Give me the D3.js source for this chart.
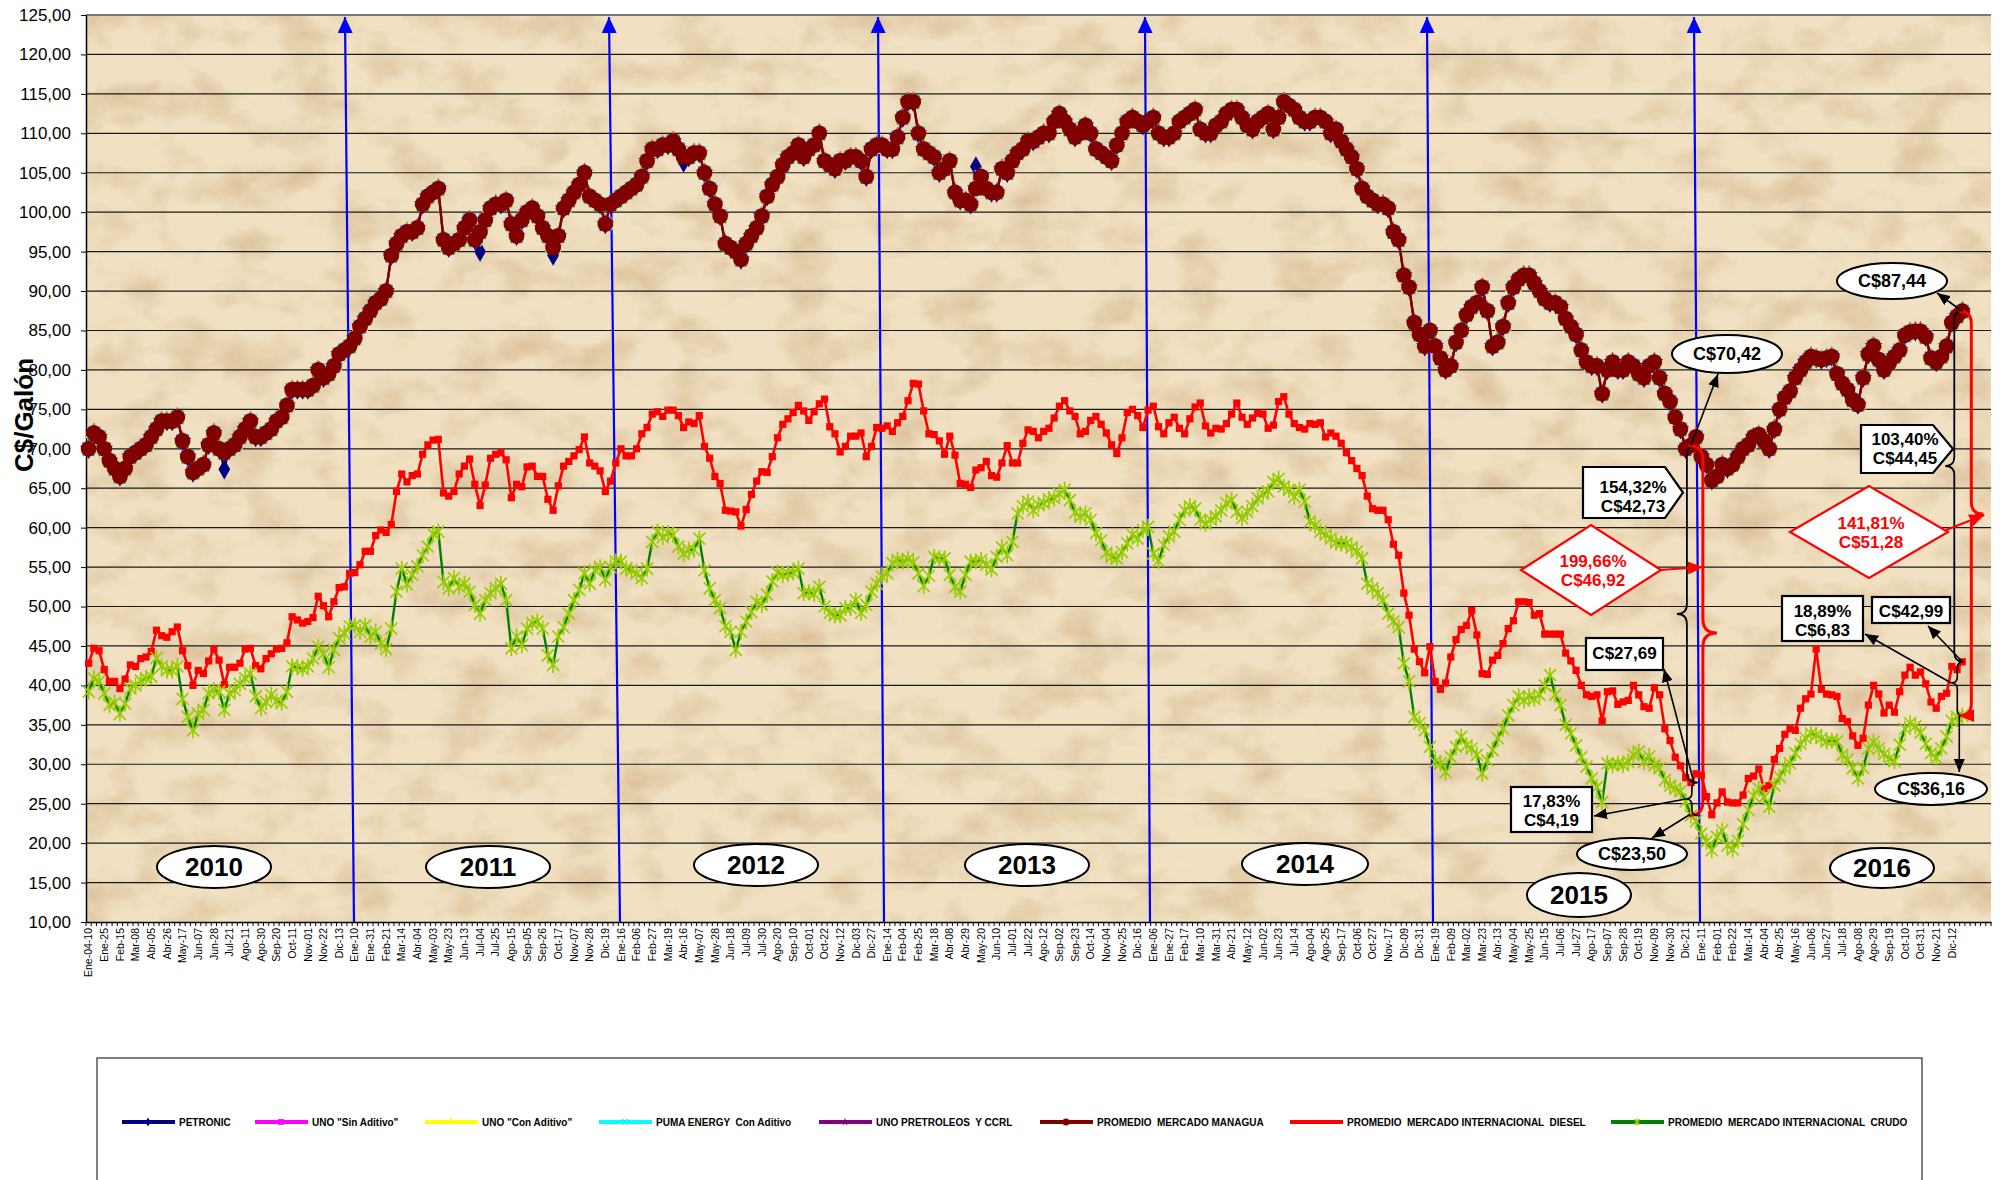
<!DOCTYPE html>
<html>
<head>
<meta charset="utf-8">
<script src="https://cdn.jsdelivr.net/npm/d3@7"></script>
<style>
  body { margin: 0; background: #fff; }
  svg text { font-family: "Liberation Sans", Arial, sans-serif; }
</style>
</head>
<body>
<svg id="chart" width="2003" height="1180"></svg>
<script>
// weekly category labels (every third week is labelled)
var weekLabels = ["Ene-04-10","Ene-25","Feb-15","Mar-08","Abr-05","Abr-26","May-17","Jun-07","Jun-28","Jul-21",
  "Ago-11","Ago-30","Sep-20","Oct-11","Nov-01","Nov-22","Dic-13","Ene-10","Ene-31","Feb-21",
  "Mar-14","Abr-04","May-03","May-23","Jun-13","Jul-04","Jul-25","Ago-15","Sep-05","Sep-26",
  "Oct-17","Nov-07","Nov-28","Dic-19","Ene-16","Feb-06","Feb-27","Mar-19","Abr-16","May-07",
  "May-28","Jun-18","Jul-09","Jul-30","Ago-20","Sep-10","Oct-01","Oct-22","Nov-12","Dic-03",
  "Dic-27","Ene-14","Feb-04","Feb-25","Mar-18","Abr-08","Abr-29","May-20","Jun-10","Jul-01",
  "Jul-22","Ago-12","Sep-02","Sep-23","Oct-14","Nov-04","Nov-25","Dic-16","Ene-06","Ene-27",
  "Feb-17","Mar-10","Mar-31","Abr-21","May-12","Jun-02","Jun-23","Jul-14","Ago-04","Ago-25",
  "Sep-17","Oct-06","Oct-27","Nov-17","Dic-09","Dic-31","Ene-19","Feb-09","Mar-02","Mar-23",
  "Abr-13","May-04","May-25","Jun-15","Jul-06","Jul-27","Ago-17","Sep-07","Sep-28","Oct-19",
  "Nov-09","Nov-30","Dic-21","Ene-11","Feb-01","Feb-22","Mar-14","Abr-04","Abr-25","May-16",
  "Jun-06","Jun-27","Jul-18","Ago-08","Ago-29","Sep-19","Oct-10","Oct-31","Nov-21","Dic-12"];
var axisWeeks = 365;
var yTicks = d3.range(10, 126, 5);

// C$/galon, weekly
var managua = [
  70.0,72.0,71.5,70.0,68.5,67.5,66.5,67.5,69.0,69.5, 70.0,70.5,71.5,72.5,73.5,73.5,73.5,74.0,71.0,69.0,
  67.0,67.5,68.0,70.5,72.0,70.0,69.5,70.0,70.5,71.5, 72.5,73.5,71.5,71.5,72.0,72.5,73.5,74.0,75.5,77.5,
  77.5,77.5,77.5,78.0,80.0,79.0,79.5,80.5,82.0,82.5, 83.0,84.0,85.5,86.5,87.5,88.5,89.0,90.0,94.5,96.0,
  97.0,97.5,97.5,98.0,101.0,102.0,102.5,103.0,96.5,95.5, 96.0,96.5,98.0,99.0,96.5,97.5,99.0,100.5,101.0,101.0,
  101.5,98.5,97.0,99.0,100.0,100.5,99.5,98.0,97.0,95.5, 97.0,100.5,101.5,102.5,103.5,105.0,102.0,101.5,101.0,98.5,
  101.0,101.5,102.0,102.5,103.0,103.5,104.5,106.5,108.0,108.0, 108.5,108.5,109.0,108.0,107.0,107.0,107.5,107.5,105.0,103.0,
  101.0,99.5,96.0,95.5,95.0,94.0,96.0,97.0,98.0,99.5, 102.0,103.5,104.5,106.0,107.0,107.5,108.5,107.0,108.0,108.5,
  110.0,106.5,106.0,105.5,106.5,106.5,107.0,107.0,106.5,104.5, 108.0,108.5,108.5,108.0,108.0,109.5,112.0,114.0,114.0,110.0,
  108.0,107.5,107.0,105.0,105.5,106.5,102.5,101.5,101.5,101.0, 103.0,104.5,103.0,102.5,102.5,105.5,105.0,106.5,107.5,108.0,
  109.0,109.0,109.5,110.0,110.0,111.5,112.5,111.5,110.5,109.5, 110.0,111.0,110.0,108.0,107.5,107.0,106.5,108.5,110.0,111.5,
  112.0,111.5,111.0,111.5,112.0,110.0,109.5,109.5,110.0,111.5, 112.0,112.5,113.0,110.5,110.0,110.0,111.0,111.5,112.5,113.0,
  113.0,112.0,111.0,110.5,111.5,112.0,112.5,110.5,112.0,114.0, 113.5,113.0,112.0,111.5,111.5,112.0,112.0,111.5,110.0,110.5,
  109.0,108.0,107.0,105.5,103.0,102.0,101.5,101.0,101.0,100.5, 97.5,96.5,92.0,90.5,86.0,84.5,83.0,85.0,83.0,81.5,
  80.0,80.5,83.5,85.0,87.0,88.0,88.5,90.5,87.5,83.0, 83.5,85.5,88.5,90.5,91.5,92.0,92.0,91.0,90.0,89.0,
  88.5,88.5,88.0,86.5,85.5,84.5,82.5,81.0,80.5,80.5, 77.0,80.0,81.0,80.0,80.0,81.0,80.5,79.5,79.0,80.5,
  81.0,79.0,77.0,76.0,74.0,72.5,70.0,70.42,71.5,69.0, 68.0,66.0,66.5,68.0,67.5,68.0,69.0,70.0,70.5,71.5,
  71.8,71.0,70.0,72.5,75.0,76.5,77.3,79.0,80.0,81.0, 81.7,81.5,81.3,81.5,81.7,79.5,78.3,77.5,76.2,75.6,
  79.0,82.0,83.0,81.3,80.0,80.9,81.7,82.5,84.4,84.8, 84.9,84.9,84.2,81.5,81.0,81.7,83.0,86.0,86.8,87.44];

var petronic = [
  70.0,72.0,71.5,70.0,68.5,67.5,66.5,67.5,69.0,69.5, 70.0,70.5,71.5,72.5,73.5,73.5,73.5,74.0,71.0,69.0,
  67.0,67.5,68.0,70.5,72.0,70.0,67.4,70.0,70.5,71.5, 72.5,73.5,71.5,71.5,72.0,72.5,73.5,74.0,75.5,77.5,
  77.5,77.5,77.5,78.0,80.0,79.0,79.5,80.5,82.0,82.5, 83.0,84.0,85.5,86.5,87.5,88.5,89.0,90.0,94.5,96.0,
  97.0,97.5,97.5,98.0,101.0,102.0,102.5,103.0,96.5,95.5, 96.0,96.5,98.0,99.0,96.5,95.0,99.0,100.5,101.0,101.0,
  101.5,98.5,97.0,99.0,100.0,100.5,99.5,98.0,97.0,94.5, 97.0,100.5,101.5,102.5,103.5,105.0,102.0,101.5,101.0,98.5,
  101.0,101.5,102.0,102.5,103.0,103.5,104.5,106.5,108.0,108.0, 108.5,108.5,109.0,108.0,106.3,107.0,107.5,107.5,105.0,103.0,
  101.0,99.5,96.0,95.5,95.0,94.0,96.0,97.0,98.0,99.5, 102.0,103.5,104.5,106.0,107.0,107.5,108.5,107.0,108.0,108.5,
  110.0,106.5,106.0,105.5,106.5,106.5,107.0,107.0,106.5,104.5, 108.0,108.5,108.5,108.0,108.0,109.5,112.0,114.0,114.0,110.0,
  108.0,107.5,107.0,105.0,105.5,106.5,102.5,101.5,101.5,101.0, 105.8,104.5,103.0,102.5,102.5,105.5,105.0,106.5,107.5,108.0,
  109.0,109.0,109.5,110.0,110.0,111.5,112.5,111.5,110.5,109.5, 110.0,111.0,110.0,108.0,107.5,107.0,106.5,108.5,110.0,111.5,
  112.0,111.5,111.0,111.5,112.0,110.0,109.5,109.5,110.0,111.5, 112.0,112.5,113.0,110.5,110.0,110.0,111.0,111.5,112.5,113.0,
  113.0,112.0,111.0,110.5,111.5,112.0,112.5,110.5,112.0,114.0, 113.5,113.0,112.0,111.5,111.5,112.0,112.0,111.5,110.0,110.5,
  109.0,108.0,107.0,105.5,103.0,102.0,101.5,101.0,101.0,100.5, 97.5,96.5,92.0,90.5,86.0,84.5,83.0,85.0,83.0,81.5,
  80.0,80.5,83.5,85.0,87.0,88.0,88.5,90.5,87.5,83.0, 83.5,85.5,88.5,90.5,91.5,92.0,92.0,91.0,90.0,89.0,
  88.5,88.5,88.0,86.5,85.5,84.5,82.5,81.0,80.5,80.5, 77.0,80.0,81.0,80.0,80.0,81.0,80.5,79.5,79.0,80.5,
  81.0,79.0,77.0,76.0,74.0,72.5,70.0,70.42,71.5,69.0, 68.0,66.0,66.5,68.0,67.5,68.0,69.0,70.0,70.5,71.5,
  71.8,71.0,70.0,72.5,75.0,76.5,77.3,79.0,80.0,81.0, 81.7,81.5,81.3,81.5,81.7,79.5,78.3,77.5,76.2,75.6,
  79.0,82.0,83.0,81.3,80.0,80.9,81.7,82.5,84.4,84.8, 84.9,84.9,84.2,81.5,81.0,81.7,83.0,86.0,86.8,87.44];

var unoSinAditivo = managua.slice();
var unoConAditivo = managua.slice();
var pumaConAditivo = managua.slice();
var unoPetroleos = managua.slice();

var diesel = [
  42.8,44.7,44.4,42.0,40.5,40.5,39.6,40.8,42.6,42.4, 43.4,43.6,44.3,47.0,46.3,46.1,46.8,47.4,44.4,42.5,
  40.0,41.9,41.5,43.1,44.6,43.2,40.1,42.3,42.3,42.8, 44.6,44.7,42.5,42.1,43.4,44.0,44.6,44.7,45.4,48.7,
  48.3,47.9,48.1,48.6,51.3,50.1,48.7,50.6,52.4,52.5, 54.2,54.3,55.3,57.0,57.0,59.0,59.7,59.4,60.4,64.6,
  66.8,65.8,66.6,66.8,69.3,70.5,71.1,71.2,64.4,64.0, 64.6,66.8,67.8,68.7,65.5,62.8,65.4,68.8,69.3,69.5,
  68.6,63.8,65.5,65.2,67.7,67.8,66.5,66.5,63.6,62.2, 65.3,67.8,68.4,69.1,69.9,71.5,68.2,67.8,67.2,64.6,
  65.9,68.2,70.0,69.1,69.1,70.0,71.9,72.7,74.4,74.7, 74.1,74.9,74.9,74.2,72.7,73.4,73.2,74.2,70.3,68.8,
  66.5,65.6,62.2,62.1,62.0,60.2,62.3,64.2,65.9,67.1, 67.0,69.0,71.4,73.1,73.8,74.6,75.5,74.8,73.6,74.7,
  75.7,76.3,72.8,71.9,69.6,70.3,71.6,71.6,72.0,69.0, 70.3,72.7,72.6,72.9,72.2,73.3,74.1,76.1,78.3,78.2,
  74.8,71.9,71.8,71.0,69.3,71.6,69.2,65.6,65.5,65.1, 67.3,67.6,68.4,66.6,66.4,68.2,70.4,68.2,68.2,70.7,
  72.4,72.2,71.4,72.2,72.6,73.9,75.4,76.1,74.8,74.1, 71.9,72.2,73.6,74.1,73.1,72.0,70.5,69.4,71.4,74.6,
  75.0,74.2,72.7,74.9,75.4,72.8,71.9,73.3,74.0,72.6, 71.9,73.8,75.3,75.8,72.9,72.0,72.6,72.5,73.2,74.4,
  75.8,74.0,73.1,73.9,74.5,74.4,72.6,73.0,76.0,76.6, 74.4,73.2,72.7,72.5,73.2,73.1,73.3,71.5,72.0,71.6,
  70.7,69.5,68.5,67.5,66.6,64.0,62.4,62.2,62.2,61.0, 57.9,56.5,51.7,48.9,44.6,43.0,41.6,44.9,40.5,39.5,
  40.3,43.6,45.8,47.1,47.6,49.5,46.4,41.5,41.4,43.2, 43.8,45.3,47.2,48.2,50.6,50.6,50.5,48.9,49.1,46.5,
  46.5,46.5,46.5,44.1,43.1,41.9,40.0,38.8,38.6,38.8, 35.5,39.2,39.3,37.6,37.9,38.1,40.0,38.8,37.3,37.1,
  39.7,38.8,34.5,33.0,30.9,29.8,28.3,27.69,28.8,28.6, 25.9,23.6,25.1,26.5,25.2,25.1,25.1,26.1,28.2,28.5,
  29.4,26.9,27.3,30.6,32.0,33.8,34.5,34.3,37.1,38.3, 38.9,44.6,39.5,38.9,38.8,38.6,35.8,35.4,33.6,32.4,
  33.3,37.5,40.0,38.9,36.5,37.5,36.6,39.2,41.3,42.3, 41.3,41.7,40.2,37.9,37.1,38.6,39.0,42.4,42.0,42.99];

var crudo = [
  39.2,40.9,40.5,39.0,37.5,37.8,36.4,37.7,39.6,40.0, 40.6,40.9,41.1,43.5,42.4,41.9,41.9,42.4,38.3,36.0,
  34.3,36.4,36.9,39.0,39.4,39.2,36.9,39.0,39.4,40.2, 40.9,41.5,38.6,37.1,37.9,38.8,38.0,37.8,39.2,42.4,
  42.3,42.1,42.4,43.4,44.9,44.0,42.3,44.5,46.0,46.6, 47.5,47.6,46.8,47.6,46.2,46.8,45.3,44.6,47.2,51.9,
  54.8,52.8,54.0,55.1,56.5,57.6,59.2,59.5,53.1,52.3, 53.6,52.5,52.9,51.9,50.2,49.1,50.8,51.7,52.3,52.9,
  50.8,44.7,46.2,45.1,47.2,47.9,48.1,47.2,43.8,42.6, 46.2,47.4,49.1,50.8,52.1,54.2,52.9,54.6,55.0,53.4,
  55.0,55.7,55.7,54.8,54.6,54.2,53.6,54.8,58.2,59.5, 58.8,59.3,59.1,57.6,56.7,57.2,57.2,58.6,54.6,52.3,
  50.8,49.8,47.5,46.8,44.5,46.8,48.1,49.3,50.6,50.2, 51.5,53.2,54.3,54.0,54.2,54.3,54.8,51.7,51.8,51.6,
  52.5,50.0,49.2,48.9,48.9,49.8,49.8,50.8,49.2,50.2, 51.9,52.9,53.8,54.2,55.5,55.9,55.7,56.0,55.6,54.2,
  52.6,53.9,56.3,56.1,56.1,54.0,52.5,51.9,54.0,55.7, 55.7,55.9,55.3,54.7,56.3,57.5,56.5,58.2,61.8,62.7,
  63.3,62.2,62.9,63.1,63.6,63.7,64.3,64.8,63.5,61.9, 61.4,61.8,61.0,59.3,58.4,56.8,56.3,56.1,56.9,58.0,
  59.1,58.6,59.7,60.1,56.7,55.8,57.8,58.9,59.5,61.0, 62.2,62.7,62.4,61.0,60.5,61.0,61.4,62.2,63.1,63.5,
  62.0,61.2,62.0,62.7,63.7,64.3,64.6,65.8,66.2,65.2, 64.8,63.9,64.8,63.3,60.8,60.3,59.5,59.1,58.6,58.1,
  58.0,58.0,57.5,57.0,56.1,52.9,52.3,51.7,50.8,49.1, 48.1,47.4,42.8,40.5,36.0,35.2,34.3,32.2,30.3,30.1,
  29.0,30.9,32.2,33.5,32.4,32.0,31.2,28.8,30.5,31.8, 33.3,34.5,36.2,37.5,38.6,38.1,38.6,38.3,38.8,40.0,
  41.3,38.8,37.5,35.0,33.9,32.4,30.9,29.7,28.2,27.1, 25.2,30.1,29.9,30.1,29.9,30.3,31.2,31.6,30.3,31.0,
  29.9,29.5,28.0,27.3,26.9,26.6,25.3,23.50,22.8,21.2, 20.2,19.1,20.8,21.6,19.7,19.2,20.3,22.4,24.2,26.0,
  26.9,25.8,24.6,27.3,28.4,29.5,30.1,31.4,32.6,33.3, 33.9,33.7,33.3,32.9,33.0,32.9,31.2,30.6,29.5,28.2,
  29.5,32.0,32.8,32.0,31.3,30.7,30.4,32.5,34.5,35.2, 34.8,34.0,32.6,31.4,30.8,32.0,33.5,35.5,36.0,36.16];

var seriesNames = ["PETRONIC", "UNO \"Sin Aditivo\"", "UNO \"Con Aditivo\"", "PUMA ENERGY  Con Aditivo",
  "UNO PRETROLEOS  Y CCRL", "PROMEDIO  MERCADO MANAGUA", "PROMEDIO  MERCADO INTERNACIONAL  DIESEL",
  "PROMEDIO  MERCADO INTERNACIONAL  CRUDO"];
var yearNames = ["2010", "2011", "2012", "2013", "2014", "2015", "2016"];

// ---------------------------------------------------------------
var svg = d3.select("#chart");
var plot = {left: 86, right: 1991, top: 15, bottom: 922};

var x = d3.scaleBand().domain(d3.range(axisWeeks)).range([plot.left, plot.right]);
var xc = function(i) { return x(i) + x.bandwidth() / 2; };
var y = d3.scaleLinear().domain([10, 125]).range([plot.bottom, plot.top]);

var defs = svg.append("defs");
var paper = defs.append("filter").attr("id", "paper")
  .attr("x", 0).attr("y", 0).attr("width", 1).attr("height", 1)
  .attr("color-interpolation-filters", "sRGB");
paper.append("feTurbulence").attr("type", "fractalNoise")
  .attr("baseFrequency", "0.018 0.024").attr("numOctaves", 4).attr("seed", 5);
paper.append("feColorMatrix").attr("type", "matrix")
  .attr("values", "0 0 0 0 0.74  0 0 0 0 0.58  0 0 0 0 0.38  0.9 0 0 0 -0.40");

function arrowMarker(id, color, w, h) {
  defs.append("marker").attr("id", id)
    .attr("viewBox", "0 0 " + w + " " + h)
    .attr("refX", w).attr("refY", h / 2)
    .attr("markerWidth", w).attr("markerHeight", h)
    .attr("markerUnits", "userSpaceOnUse")
    .attr("orient", "auto")
    .append("path").attr("d", "M0,0L" + w + "," + (h / 2) + "L0," + h + "Z").attr("fill", color);
}
arrowMarker("arrBlue", "#0000ff", 16, 15);
arrowMarker("arrBlack", "#000", 13, 11);
arrowMarker("arrRed", "#ff0000", 15, 13);

// plot background (parchment)
svg.append("rect").attr("x", plot.left).attr("y", plot.top)
  .attr("width", plot.right - plot.left).attr("height", plot.bottom - plot.top)
  .attr("fill", "#F1E1C2");
svg.append("rect").attr("x", plot.left).attr("y", plot.top)
  .attr("width", plot.right - plot.left).attr("height", plot.bottom - plot.top)
  .attr("filter", "url(#paper)");

// grid
svg.append("g").selectAll("line")
  .data(yTicks.filter(function(v) { return v > 10; }))
  .join("line")
    .attr("x1", plot.left).attr("x2", plot.right)
    .attr("y1", function(d) { return y(d); }).attr("y2", function(d) { return y(d); })
    .attr("stroke", function(d) { return d === 125 ? "#777" : "#1a1a1a"; })
    .attr("stroke-width", function(d) { return d === 125 ? 2 : 1.2; });

// y axis
var yAxis = svg.append("g")
  .attr("transform", "translate(" + plot.left + ",0)")
  .call(d3.axisLeft(y).tickValues(yTicks).tickSize(5).tickSizeOuter(0).tickPadding(10)
    .tickFormat(function(d) { return d3.format(".2f")(d).replace(".", ","); }));
yAxis.attr("font-family", "Liberation Sans, Arial, sans-serif").attr("font-size", 17);
yAxis.selectAll("text").attr("fill", "#000");
yAxis.select(".domain").attr("stroke", "#000").attr("stroke-width", 1.5);

svg.append("text")
  .attr("transform", "translate(24,415) rotate(-90)")
  .attr("text-anchor", "middle").attr("dominant-baseline", "central")
  .attr("font-size", 26).attr("font-weight", "bold")
  .text("C$/Galón");

// x axis
var xAxis = svg.append("g")
  .attr("transform", "translate(0," + plot.bottom + ")")
  .call(d3.axisBottom(x).tickValues(d3.range(0, weekLabels.length * 3, 3)).tickSize(0).tickSizeOuter(0)
    .tickFormat(function(d) { return weekLabels[d / 3]; }));
xAxis.attr("font-family", "Liberation Sans, Arial, sans-serif").attr("font-size", 10.5);
xAxis.select(".domain").attr("stroke", "#000").attr("stroke-width", 1.5);
xAxis.selectAll("text")
  .attr("transform", "rotate(-90)").attr("text-anchor", "end")
  .attr("x", -6).attr("y", 0).attr("dy", "0.35em").attr("fill", "#000");

svg.append("g").selectAll("line")
  .data(d3.range(axisWeeks + 1))
  .join("line")
    .attr("x1", function(i) { return i < axisWeeks ? x(i) : x.range()[1]; })
    .attr("x2", function(i) { return i < axisWeeks ? x(i) : x.range()[1]; })
    .attr("y1", plot.bottom).attr("y2", plot.bottom + 4)
    .attr("stroke", "#000").attr("stroke-width", 1);

// blue year-separator arrows (bottom x, top x)
var separators = [[354, 345], [620, 609], [884, 878], [1150, 1145], [1433, 1427], [1700, 1694]];
svg.append("g").selectAll("line").data(separators).join("line")
  .attr("x1", function(d) { return d[0]; }).attr("y1", plot.bottom)
  .attr("x2", function(d) { return d[1]; }).attr("y2", plot.top + 2)
  .attr("stroke", "#0000ff").attr("stroke-width", 2.2)
  .attr("marker-end", "url(#arrBlue)");

// series
var asterisk = "M-6,-6L6,6M-6,6L6,-6M0,-8L0,8";
var series = [
  {name: seriesNames[0], values: petronic, color: "#000080", width: 2, sym: d3.symbolDiamond, size: 120, fill: "#000080"},
  {name: seriesNames[1], values: unoSinAditivo, color: "#ff00ff", width: 2, sym: d3.symbolSquare, size: 165, fill: "#ff00ff"},
  {name: seriesNames[2], values: unoConAditivo, color: "#ffff00", width: 2, sym: d3.symbolTriangle, size: 125, fill: "#ffff00"},
  {name: seriesNames[3], values: pumaConAditivo, color: "#00ffff", width: 2, sym: d3.symbolX, size: 110, stroke: "#00ffff"},
  {name: seriesNames[4], values: unoPetroleos, color: "#800080", width: 2, sym: d3.symbolStar, size: 100, fill: "#800080"},
  {name: seriesNames[5], values: managua, color: "#800000", width: 2.5, sym: d3.symbolCircle, size: 195, fill: "#800000"},
  {name: seriesNames[6], values: diesel, color: "#ff0000", width: 2.6, sym: d3.symbolSquare, size: 52, fill: "#ff0000"},
  {name: seriesNames[7], values: crudo, color: "#008000", width: 2.4, path: asterisk, stroke: "#99cc00"}
];

var line = d3.line()
  .x(function(d, i) { return xc(i); })
  .y(function(d) { return y(d); });

function markerPath(s, scale) {
  if (s.path) return s.path;
  return d3.symbol().type(s.sym).size(s.size * (scale || 1))();
}

series.forEach(function(s) {
  var g = svg.append("g");
  g.append("path").datum(s.values)
    .attr("d", line).attr("fill", "none")
    .attr("stroke", s.color).attr("stroke-width", s.width).attr("stroke-linejoin", "round");
  g.selectAll("path.m").data(s.values).join("path")
    .attr("class", "m")
    .attr("transform", function(d, i) { return "translate(" + xc(i) + "," + y(d) + ")"; })
    .attr("d", markerPath(s))
    .attr("fill", s.fill || "none")
    .attr("stroke", s.stroke || "none")
    .attr("stroke-width", s.stroke ? 1.7 : 0);
});

// year ellipses
var yearSpots = [[214, 867, 57, 21], [488, 867, 62, 21], [756, 865, 62, 21], [1027, 865, 62, 21],
  [1305, 864, 63, 21], [1579, 895, 52, 22], [1882, 868, 52, 20]];
var yearG = svg.append("g");
yearNames.forEach(function(t, k) {
  var p = yearSpots[k];
  yearG.append("ellipse").attr("cx", p[0]).attr("cy", p[1]).attr("rx", p[2]).attr("ry", p[3])
    .attr("fill", "#fff").attr("stroke", "#000").attr("stroke-width", 2);
  yearG.append("text").attr("x", p[0]).attr("y", p[1]).attr("dy", "0.36em")
    .attr("text-anchor", "middle").attr("font-size", 26).attr("font-weight", "bold").text(t);
});

// ---- annotations ----
var ann = svg.append("g").attr("font-weight", "bold");

function brace(xp, y0, ym, y1, d, color, w) {
  var r0 = Math.min(Math.abs(d), (ym - y0) / 2), r1 = Math.min(Math.abs(d), (y1 - ym) / 2);
  var p = "M" + (xp + d) + "," + y0 + "Q" + xp + "," + y0 + " " + xp + "," + (y0 + r0) +
    "L" + xp + "," + (ym - r0) + "Q" + xp + "," + ym + " " + (xp - d) + "," + ym +
    "Q" + xp + "," + ym + " " + xp + "," + (ym + r1) +
    "L" + xp + "," + (y1 - r1) + "Q" + xp + "," + y1 + " " + (xp + d) + "," + y1;
  return ann.append("path").attr("d", p).attr("fill", "none")
    .attr("stroke", color).attr("stroke-width", w);
}
function arrow(x1, y1, x2, y2, color, marker, w) {
  ann.append("line").attr("x1", x1).attr("y1", y1).attr("x2", x2).attr("y2", y2)
    .attr("stroke", color).attr("stroke-width", w || 1.6).attr("marker-end", "url(#" + marker + ")");
}
function label(xp, yp, lines, color, size) {
  lines.forEach(function(t, k) {
    ann.append("text").attr("x", xp).attr("y", yp + k * (size + 2)).attr("dy", "0.36em")
      .attr("text-anchor", "middle").attr("font-size", size).attr("fill", color).text(t);
  });
}
function ellipseLabel(cx, cy, rx, ry, t) {
  ann.append("ellipse").attr("cx", cx).attr("cy", cy).attr("rx", rx).attr("ry", ry)
    .attr("fill", "#fff").attr("stroke", "#000").attr("stroke-width", 2);
  label(cx, cy, [t], "#000", 18);
}
function boxLabel(x0, y0, x1, y1, lines, ty) {
  ann.append("rect").attr("x", x0).attr("y", y0).attr("width", x1 - x0).attr("height", y1 - y0)
    .attr("fill", "#fff").attr("stroke", "#000").attr("stroke-width", 2.2);
  label((x0 + x1) / 2, ty, lines, "#000", 17);
}
function pentagon(x0, y0, x1, xp, y1, lines, tx, ty) {
  var ym = (y0 + y1) / 2;
  ann.append("path").attr("d", "M" + x0 + "," + y0 + "L" + x1 + "," + y0 + "L" + xp + "," + ym +
      "L" + x1 + "," + y1 + "L" + x0 + "," + y1 + "Z")
    .attr("fill", "#fff").attr("stroke", "#000").attr("stroke-width", 2.2);
  label(tx, ty, lines, "#000", 17);
}
function diamond(cx, cy, hw, hh, lines) {
  ann.append("path").attr("d", "M" + (cx - hw) + "," + cy + "L" + cx + "," + (cy - hh) + "L" + (cx + hw) + "," + cy +
      "L" + cx + "," + (cy + hh) + "Z")
    .attr("fill", "#fff").attr("stroke", "#ff0000").attr("stroke-width", 2.2);
  label(cx + 2, cy - 9, lines, "#ff0000", 17);
}

var iLow = 307, iEnd = 359;
// December 2015 comparison
brace(xc(iLow) - 4, y(managua[iLow]), 614, y(diesel[iLow]), 10, "#000", 1.8);
brace(xc(iLow) + 12, y(managua[iLow]), 633, y(crudo[iLow]), -14, "#ff0000", 3);
brace(xc(iLow) + 1, y(diesel[iLow]), 799, y(crudo[iLow]), 6, "#000", 1.6);
pentagon(1583, 467, 1665, 1683, 518, ["154,32%", "C$42,73"], 1633, 487);
diamond(1591, 570, 70, 45, ["199,66%", "C$46,92"]);
arrow(1660, 570, xc(iLow) + 12, 567, "#ff0000", "arrRed", 2);
ellipseLabel(1727, 354, 55, 19, "C$70,42");
arrow(xc(iLow), y(managua[iLow]), 1718, 374, "#000", "arrBlack");
boxLabel(1586, 638, 1663, 670, ["C$27,69"], 653);
arrow(xc(iLow) + 3, y(diesel[iLow]), 1664, 669, "#000", "arrBlack");
boxLabel(1511, 787, 1592, 832, ["17,83%", "C$4,19"], 801);
arrow(xc(iLow) - 5, 799, 1594, 816, "#000", "arrBlack");
ellipseLabel(1632, 854, 55, 16, "C$23,50");
arrow(xc(iLow) - 1, y(crudo[iLow]) - 1, 1652, 838, "#000", "arrBlack");

// end of 2016 comparison
brace(xc(iEnd) - 8, y(managua[iEnd]), 466, y(diesel[iEnd]), 9, "#000", 1.8);
brace(xc(iEnd) - 5, y(diesel[iEnd]), 683, y(crudo[iEnd]), 6, "#000", 1.6);
var redEnd = brace(xc(iEnd) + 9, y(managua[iEnd]), 514, y(crudo[iEnd]), -12, "#ff0000", 3);
redEnd.attr("marker-end", "url(#arrRed)");
pentagon(1861, 425, 1933, 1953, 473, ["103,40%", "C$44,45"], 1905, 439);
diamond(1869, 532, 79, 46, ["141,81%", "C$51,28"]);
arrow(1946, 530, xc(iEnd) + 22, 515, "#ff0000", "arrRed", 2);
ellipseLabel(1892, 281, 55, 18, "C$87,44");
arrow(xc(iEnd), y(managua[iEnd]), 1937, 293, "#000", "arrBlack");
boxLabel(1782, 596, 1863, 641, ["18,89%", "C$6,83"], 611);
arrow(xc(iEnd) - 11, 683, 1865, 634, "#000", "arrBlack");
boxLabel(1872, 597, 1950, 623, ["C$42,99"], 611);
arrow(xc(iEnd), y(diesel[iEnd]), 1928, 626, "#000", "arrBlack");
ellipseLabel(1931, 789, 56, 16, "C$36,16");
arrow(xc(iEnd) - 3, y(crudo[iEnd]), xc(iEnd) - 3, 772, "#000", "arrBlack");

// legend
var legend = svg.append("g");
legend.append("rect").attr("x", 97).attr("y", 1058).attr("width", 1825).attr("height", 160)
  .attr("fill", "#fff").attr("stroke", "#000").attr("stroke-width", 1);
var legendX = [122, 255, 425, 599, 819, 1040, 1290, 1611];
series.forEach(function(s, k) {
  var lx = legendX[k], ly = 1122;
  legend.append("line").attr("x1", lx).attr("x2", lx + 53).attr("y1", ly).attr("y2", ly)
    .attr("stroke", s.color).attr("stroke-width", 4);
  legend.append("path").attr("transform", "translate(" + (lx + 26) + "," + ly + ") scale(0.45)")
    .attr("d", markerPath(s)).attr("fill", s.fill || "none")
    .attr("stroke", s.stroke || "none").attr("stroke-width", s.stroke ? 3 : 0);
  legend.append("text").attr("x", lx + 57).attr("y", ly).attr("dy", "0.35em")
    .attr("font-size", 10).attr("font-weight", "bold").style("white-space", "pre")
    .text(s.name);
});
</script>
</body>
</html>
